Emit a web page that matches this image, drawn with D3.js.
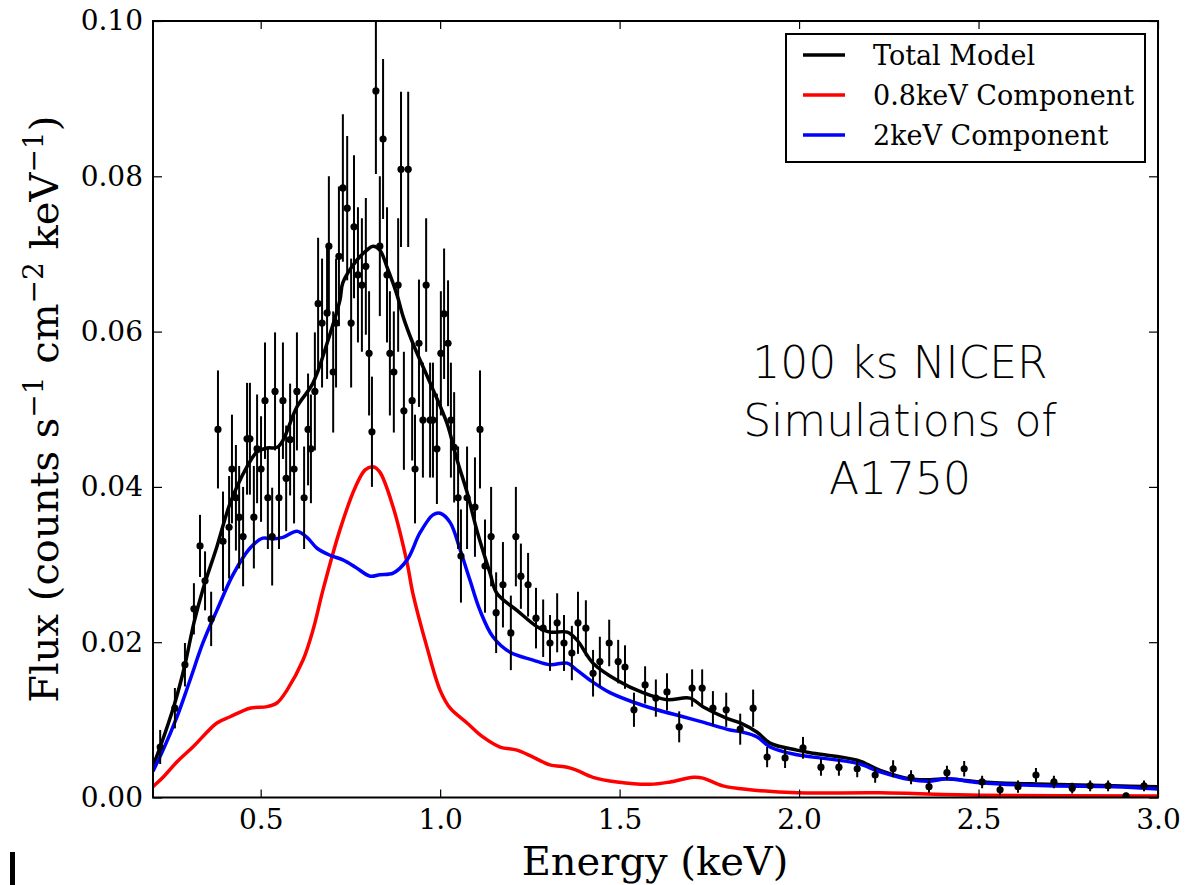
<!DOCTYPE html>
<html>
<head>
<meta charset="utf-8">
<script src="https://cdn.jsdelivr.net/npm/d3@7"></script>
<style>
  body { margin: 0; background: #fff; }
  svg { display: block; }
  .serif { font-family: "DejaVu Serif", serif; }
  .sans { font-family: "DejaVu Sans", sans-serif; }
</style>
</head>
<body>
<svg id="chart" width="1188" height="885"></svg>
<script>
// simulated spectrum points (keV, flux) and 1-sigma errors
const dataE = [0.220, 0.261, 0.289, 0.314, 0.331, 0.345, 0.362, 0.381, 0.395, 0.412,
  0.420, 0.431, 0.440, 0.451, 0.462, 0.470, 0.481, 0.490, 0.501, 0.512,
  0.520, 0.532, 0.540, 0.551, 0.562, 0.571, 0.582, 0.593, 0.601, 0.621,
  0.632, 0.640, 0.651, 0.660, 0.671, 0.685, 0.690, 0.702, 0.710, 0.718,
  0.729, 0.741, 0.752, 0.760, 0.771, 0.782, 0.793, 0.802, 0.810, 0.821,
  0.832, 0.841, 0.852, 0.860, 0.871, 0.883, 0.891, 0.899, 0.911, 0.922,
  0.930, 0.941, 0.952, 0.961, 0.972, 0.980, 0.991, 1.002, 1.011, 1.022,
  1.030, 1.039, 1.050, 1.058, 1.075, 1.097, 1.111, 1.125, 1.142, 1.156,
  1.175, 1.197, 1.211, 1.225, 1.245, 1.267, 1.287, 1.306, 1.326, 1.345,
  1.367, 1.384, 1.406, 1.426, 1.445, 1.471, 1.496, 1.515, 1.540, 1.571,
  1.601, 1.632, 1.666, 1.702, 1.730, 1.760, 1.797, 1.836, 1.872, 1.911,
  1.961, 2.011, 2.061, 2.111, 2.162, 2.212, 2.262, 2.312, 2.362, 2.412,
  2.460, 2.510, 2.560, 2.610, 2.660, 2.710, 2.761, 2.811, 2.861, 2.911, 2.961];
const dataF = [0.0065, 0.0115, 0.0171, 0.0243, 0.0324, 0.0279, 0.0230, 0.0474, 0.0330, 0.0348,
  0.0423, 0.0386, 0.0361, 0.0336, 0.0462, 0.0462, 0.0361, 0.0449, 0.0423, 0.0511,
  0.0386, 0.0336, 0.0523, 0.0386, 0.0511, 0.0411, 0.0461, 0.0423, 0.0523, 0.0386,
  0.0474, 0.0449, 0.0523, 0.0636, 0.0611, 0.0624, 0.0710, 0.0548, 0.0611, 0.0697,
  0.0785, 0.0759, 0.0611, 0.0735, 0.0673, 0.0660, 0.0684, 0.0572, 0.0471, 0.0910,
  0.0710, 0.0848, 0.0673, 0.0572, 0.0548, 0.0660, 0.0809, 0.0498, 0.0809, 0.0511,
  0.0423, 0.0585, 0.0486, 0.0660, 0.0486, 0.0486, 0.0449, 0.0572, 0.0623, 0.0585,
  0.0486, 0.0451, 0.0386, 0.0311, 0.0386, 0.0374, 0.0474, 0.0298, 0.0336, 0.0238,
  0.0274, 0.0212, 0.0336, 0.0285, 0.0274, 0.0231, 0.0218, 0.0199, 0.0225, 0.0199,
  0.0186, 0.0225, 0.0218, 0.0160, 0.0175, 0.0199, 0.0175, 0.0168, 0.0113, 0.0145,
  0.0128, 0.0136, 0.0091, 0.0141, 0.0141, 0.0115, 0.0113, 0.0088, 0.0115, 0.0052,
  0.0051, 0.0064, 0.0039, 0.0039, 0.0037, 0.0029, 0.0037, 0.0026, 0.0014, 0.0032,
  0.0037, 0.0020, 0.0010, 0.0014, 0.0029, 0.0020, 0.0012, 0.0015, 0.0015, 0.0002, 0.0015];
const dataErr = [0.0022, 0.0026, 0.0028, 0.0033, 0.0040, 0.0038, 0.0035, 0.0076, 0.0064, 0.0066,
  0.0070, 0.0068, 0.0066, 0.0064, 0.0072, 0.0072, 0.0066, 0.0070, 0.0068, 0.0075,
  0.0066, 0.0063, 0.0076, 0.0066, 0.0075, 0.0068, 0.0072, 0.0070, 0.0076, 0.0066,
  0.0072, 0.0070, 0.0076, 0.0085, 0.0083, 0.0085, 0.0090, 0.0078, 0.0083, 0.0090,
  0.0095, 0.0093, 0.0083, 0.0092, 0.0087, 0.0086, 0.0088, 0.0080, 0.0071, 0.0107,
  0.0090, 0.0103, 0.0087, 0.0080, 0.0078, 0.0086, 0.0100, 0.0076, 0.0100, 0.0077,
  0.0070, 0.0082, 0.0074, 0.0086, 0.0074, 0.0074, 0.0071, 0.0080, 0.0084, 0.0081,
  0.0074, 0.0071, 0.0066, 0.0060, 0.0066, 0.0064, 0.0076, 0.0060, 0.0064, 0.0052,
  0.0055, 0.0048, 0.0064, 0.0042, 0.0041, 0.0039, 0.0037, 0.0036, 0.0038, 0.0036,
  0.0035, 0.0040, 0.0036, 0.0030, 0.0032, 0.0030, 0.0028, 0.0028, 0.0022, 0.0024,
  0.0024, 0.0024, 0.0020, 0.0024, 0.0024, 0.0022, 0.0022, 0.0020, 0.0024, 0.0013,
  0.0013, 0.0014, 0.0011, 0.0011, 0.0011, 0.0010, 0.0011, 0.0009, 0.0008, 0.0009,
  0.0010, 0.0008, 0.0007, 0.0008, 0.0009, 0.0008, 0.0007, 0.0007, 0.0007, 0.0004, 0.0007];

// model curves
const totalE = [0.200, 0.220, 0.261, 0.289, 0.314, 0.339, 0.378, 0.415, 0.462, 0.490,
  0.518, 0.546, 0.562, 0.601, 0.646, 0.685, 0.721, 0.729, 0.768, 0.796,
  0.813, 0.832, 0.852, 0.880, 0.897, 0.924, 0.972, 1.019, 1.047, 1.075,
  1.103, 1.139, 1.158, 1.214, 1.270, 1.306, 1.354, 1.381, 1.426, 1.493,
  1.565, 1.632, 1.696, 1.732, 1.799, 1.836, 1.883, 1.919, 1.994, 2.039,
  2.162, 2.226, 2.309, 2.365, 2.412, 2.504, 2.691, 2.875, 3.000];
const totalF = [0.0041, 0.0065, 0.0122, 0.0171, 0.0225, 0.0268, 0.0323, 0.0379, 0.0426, 0.0445,
  0.0450, 0.0451, 0.0460, 0.0503, 0.0534, 0.0585, 0.0641, 0.0663, 0.0692, 0.0705,
  0.0710, 0.0705, 0.0683, 0.0647, 0.0619, 0.0585, 0.0534, 0.0482, 0.0435, 0.0393,
  0.0343, 0.0289, 0.0263, 0.0241, 0.0220, 0.0213, 0.0213, 0.0203, 0.0173, 0.0151,
  0.0135, 0.0126, 0.0128, 0.0117, 0.0102, 0.0096, 0.0084, 0.0070, 0.0061, 0.0057,
  0.0048, 0.0035, 0.0024, 0.0023, 0.0024, 0.0020, 0.0017, 0.0015, 0.0014];

const lowE = [0.200, 0.228, 0.267, 0.311, 0.378, 0.415, 0.470, 0.518, 0.546, 0.573,
  0.618, 0.646, 0.674, 0.721, 0.763, 0.791, 0.813, 0.832, 0.869, 0.908,
  0.924, 0.963, 1.000, 1.028, 1.075, 1.119, 1.167, 1.214, 1.259, 1.306,
  1.354, 1.381, 1.426, 1.493, 1.585, 1.641, 1.705, 1.732, 1.788, 1.863,
  1.994, 2.226, 2.504, 3.000];
const lowF = [0.0014, 0.0026, 0.0046, 0.0065, 0.0096, 0.0104, 0.0115, 0.0117, 0.0122, 0.0138,
  0.0177, 0.0216, 0.0268, 0.0345, 0.0399, 0.0422, 0.0426, 0.0419, 0.0374, 0.0302,
  0.0263, 0.0194, 0.0138, 0.0115, 0.0096, 0.0078, 0.0065, 0.0061, 0.0052, 0.0042,
  0.0039, 0.0035, 0.0026, 0.0020, 0.0017, 0.0020, 0.0026, 0.0025, 0.0015, 0.0010,
  0.0006, 0.0006, 0.0003, 0.0002];

const highE = [0.200, 0.228, 0.267, 0.303, 0.339, 0.378, 0.423, 0.470, 0.506, 0.534,
  0.562, 0.601, 0.629, 0.657, 0.693, 0.729, 0.763, 0.805, 0.832, 0.869,
  0.908, 0.944, 0.980, 1.000, 1.028, 1.055, 1.083, 1.111, 1.147, 1.195,
  1.259, 1.306, 1.354, 1.381, 1.418, 1.473, 1.537, 1.604, 1.677, 1.732,
  1.808, 1.844, 1.883, 1.919, 1.994, 2.039, 2.162, 2.226, 2.309, 2.365,
  2.412, 2.504, 2.691, 2.875, 3.000];
const highF = [0.0034, 0.0061, 0.0104, 0.0151, 0.0199, 0.0241, 0.0287, 0.0321, 0.0334, 0.0333,
  0.0335, 0.0343, 0.0335, 0.0321, 0.0312, 0.0306, 0.0297, 0.0285, 0.0287, 0.0289,
  0.0306, 0.0341, 0.0364, 0.0366, 0.0354, 0.0320, 0.0280, 0.0241, 0.0207, 0.0187,
  0.0177, 0.0171, 0.0173, 0.0164, 0.0151, 0.0135, 0.0123, 0.0113, 0.0104, 0.0097,
  0.0087, 0.0084, 0.0078, 0.0065, 0.0055, 0.0052, 0.0044, 0.0033, 0.0023, 0.0021,
  0.0024, 0.0019, 0.0015, 0.0014, 0.0011];

const xTicks = [0.5, 1.0, 1.5, 2.0, 2.5, 3.0];
const yTicks = [0.00, 0.02, 0.04, 0.06, 0.08, 0.10];
const legendNames = ["Total Model", "0.8keV Component", "2keV Component"];
const legendColors = ["#000000", "#ff0000", "#0000ff"];
const noteLines = ["100 ks NICER", "Simulations of", "A1750"];

const svg = d3.select("#chart");
const pLeft = 153, pRight = 1158, pTop = 21, pBottom = 797.5;

const x = d3.scaleLinear().domain([0.2, 3.0]).range([pLeft, pRight]);
const y = d3.scaleLinear().domain([0, 0.1]).range([pBottom, pTop]);

svg.append("defs").append("clipPath").attr("id", "plotClip")
  .append("rect").attr("x", pLeft).attr("y", pTop).attr("width", pRight - pLeft).attr("height", pBottom - pTop);

const plot = svg.append("g").attr("clip-path", "url(#plotClip)");

const line = d3.line().x(d => x(d[0])).y(d => y(d[1])).curve(d3.curveCatmullRom.alpha(0.5));
const models = [
  { e: totalE, f: totalF, color: legendColors[0] },
  { e: lowE, f: lowF, color: legendColors[1] },
  { e: highE, f: highF, color: legendColors[2] }
];
models.forEach(m => {
  plot.append("path")
    .datum(m.e.map((e, i) => [e, m.f[i]]))
    .attr("d", line)
    .attr("fill", "none")
    .attr("stroke", m.color)
    .attr("stroke-width", 3.5)
    .attr("stroke-linejoin", "round");
});

// error bars + points
const pts = dataE.map((e, i) => ({ e: e, f: dataF[i], err: dataErr[i] }));
plot.selectAll("line.err").data(pts).enter().append("line")
  .attr("class", "err")
  .attr("x1", d => x(d.e)).attr("x2", d => x(d.e))
  .attr("y1", d => y(d.f - d.err)).attr("y2", d => y(d.f + d.err))
  .attr("stroke", "#000").attr("stroke-width", 2);
plot.selectAll("circle.pt").data(pts).enter().append("circle")
  .attr("class", "pt")
  .attr("cx", d => x(d.e)).attr("cy", d => y(d.f))
  .attr("r", 3.6).attr("fill", "#000");

// axes, ticks inside on all four sides
const axisFont = g => g.selectAll("text")
  .attr("font-family", "DejaVu Serif, serif").attr("font-size", 28).attr("fill", "#000");

const xb = svg.append("g").attr("transform", `translate(0,${pBottom})`)
  .call(d3.axisBottom(x).tickValues(xTicks).tickFormat(d3.format(".1f"))
    .tickSizeInner(-8).tickSizeOuter(0));
xb.call(axisFont);
xb.select(".domain").remove();
xb.selectAll("text").attr("dy", "0.71em").attr("y", 12);

const xt = svg.append("g").attr("transform", `translate(0,${pTop})`)
  .call(d3.axisTop(x).tickValues(xTicks).tickFormat("").tickSizeInner(-8).tickSizeOuter(0));
xt.select(".domain").remove();

const yl = svg.append("g").attr("transform", `translate(${pLeft},0)`)
  .call(d3.axisLeft(y).tickValues(yTicks).tickFormat(d3.format(".2f"))
    .tickSizeInner(-9).tickSizeOuter(0));
yl.call(axisFont);
yl.select(".domain").remove();
yl.selectAll("text").attr("x", -10);

const yr = svg.append("g").attr("transform", `translate(${pRight},0)`)
  .call(d3.axisRight(y).tickValues(yTicks).tickFormat("").tickSizeInner(-9).tickSizeOuter(0));
yr.select(".domain").remove();

svg.selectAll(".tick line").attr("stroke", "#000").attr("stroke-width", 1.2);

svg.append("rect")
  .attr("x", pLeft).attr("y", pTop).attr("width", pRight - pLeft).attr("height", pBottom - pTop)
  .attr("fill", "none").attr("stroke", "#000").attr("stroke-width", 2);

// axis labels
svg.append("text").attr("class", "serif")
  .attr("x", 655).attr("y", 875)
  .attr("text-anchor", "middle").attr("font-size", 40)
  .text("Energy (keV)");

const ylab = svg.append("text").attr("class", "serif")
  .attr("transform", `translate(58,${(pTop + pBottom) / 2}) rotate(-90)`)
  .attr("text-anchor", "middle").attr("font-size", 40);
[["Flux (counts s", null], ["\u22121", "sup"], [" cm", null], ["\u22122", "sup"], [" keV", null], ["\u22121", "sup"], [")", null]]
  .forEach(p => {
    const t = ylab.append("tspan").text(p[0]);
    if (p[1] === "sup") t.attr("font-size", 28).attr("dy", -15);
    else if (p[0] !== "Flux (counts s") t.attr("dy", 15);
  });

// legend
const leg = svg.append("g");
leg.append("rect").attr("x", 786).attr("y", 34).attr("width", 359).attr("height", 128)
  .attr("fill", "#fff").attr("stroke", "#000").attr("stroke-width", 2);
legendNames.forEach((name, i) => {
  const ly = 55 + i * 40;
  leg.append("line").attr("x1", 803).attr("x2", 845).attr("y1", ly).attr("y2", ly)
    .attr("stroke", legendColors[i]).attr("stroke-width", 3.5);
  leg.append("text").attr("class", "serif")
    .attr("x", 873).attr("y", ly + 10).attr("font-size", 27).text(name);
});

// annotation
svg.append("g").selectAll("text").data(noteLines).enter().append("text")
  .attr("class", "sans")
  .attr("x", 900).attr("y", (d, i) => 378 + i * 58)
  .attr("text-anchor", "middle").attr("font-size", 44).attr("font-weight", 300)
  .text(d => d);

// clipped glyph remnant at the lower left corner
svg.append("rect").attr("x", 10).attr("y", 852).attr("width", 5).attr("height", 33).attr("fill", "#000");
</script>
</body>
</html>
